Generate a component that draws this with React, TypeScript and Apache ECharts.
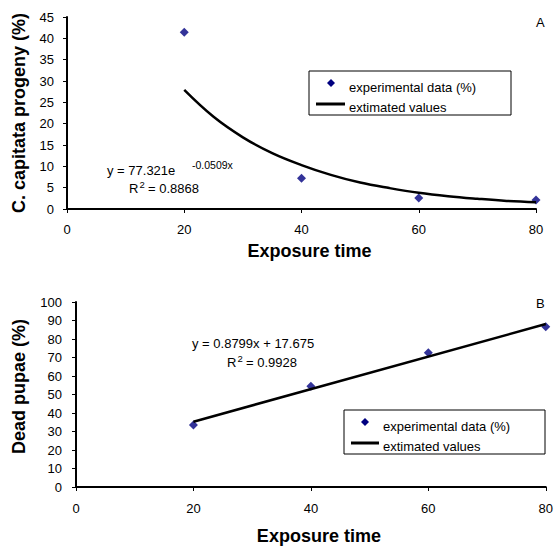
import React, { useEffect, useRef } from "react";
import * as echarts from "echarts";

// Panel A: C. capitata progeny vs exposure time
const exposureTimes = [20, 40, 60, 80];
const progenyData = [41.4, 7.2, 2.6, 2.1];
const curveTimes = [20, 25, 30, 35, 40, 45, 50, 55, 60, 65, 70, 75, 80];
const curveValues = [27.9, 21.6, 16.8, 13.1, 10.3, 8.0, 6.2, 4.9, 3.8, 3.0, 2.4, 1.9, 1.6];
const equationA = "y = 77.321e";
const exponentA = "-0.0509x";
const r2ValueA = "= 0.8868";

// Panel B: dead pupae vs exposure time
const deadPupae = [33.5, 54.5, 72.6, 86.6];
const lineTimes = [20, 80];
const lineValues = [35.3, 88.1];
const equationB = "y = 0.8799x + 17.675";
const r2ValueB = "= 0.9928";

const xTickMax = 80;
const xTickStep = 20;
const yMaxA = 45;
const yStepA = 5;
const yMaxB = 100;
const yStepB = 10;

const seriesScatterName = "experimental data (%)";
const seriesLineName = "extimated values";

const FONT = '"Liberation Sans", Arial, sans-serif';

export default function App() {
  const ref = useRef<HTMLDivElement>(null);

  useEffect(() => {
    if (!ref.current) return;
    const chart = echarts.init(ref.current, null, { renderer: "svg" });

    const axisCommon = {
      axisLine: { show: true, lineStyle: { color: "#000", width: 2 } },
      axisTick: { show: true, length: 4, lineStyle: { color: "#000", width: 1 } },
      splitLine: { show: false },
    };
    const labelStyle = { color: "#000", fontSize: 13, fontFamily: FONT };
    const nameStyle = { color: "#000", fontSize: 18, fontWeight: "bold" as const, fontFamily: FONT };

    const legendBox = (x: number, y: number, w: number, h: number, dx: number, dy: number, lx1: number, lx2: number, ly: number, tx: number, t1: number, t2: number) => [
      { type: "rect", shape: { x, y, width: w, height: h }, style: { fill: "#fff", stroke: "#000", lineWidth: 1 } },
      { type: "polygon", shape: { points: [[dx, dy - 4], [dx + 4, dy], [dx, dy + 4], [dx - 4, dy]] }, style: { fill: "#000080" } },
      { type: "text", style: { text: seriesScatterName, x: tx, y: t1, fill: "#000", fontSize: 13, fontFamily: FONT, verticalAlign: "middle" } },
      { type: "line", shape: { x1: lx1, y1: ly, x2: lx2, y2: ly }, style: { stroke: "#000", lineWidth: 3 } },
      { type: "text", style: { text: seriesLineName, x: tx, y: t2, fill: "#000", fontSize: 13, fontFamily: FONT, verticalAlign: "middle" } },
    ];

    const txt = (text: string, x: number, y: number, size = 13) => ({
      type: "text",
      style: { text, x, y, fill: "#000", fontSize: size, fontFamily: FONT, verticalAlign: "middle" },
    });

    const r2 = (value: string, x: number, y: number) => [
      txt("R", x, y),
      txt("2", x + 10.5, y - 4, 9.5),
      txt(value, x + 19, y),
    ];

    chart.setOption({
      animation: false,
      backgroundColor: "#fff",
      grid: [
        { left: 67, top: 17, width: 469, height: 192 },
        { left: 76, top: 302, width: 476, height: 190 },
      ],
      xAxis: [
        {
          gridIndex: 0, type: "value", min: 0, max: xTickMax, interval: xTickStep, ...axisCommon,
          axisLabel: { ...labelStyle, margin: 14 },
          name: "Exposure time", nameLocation: "middle", nameGap: 33,
          nameTextStyle: { ...nameStyle, padding: [0, 0, 0, 16] },
        },
        {
          gridIndex: 1, type: "value", min: 0, max: xTickMax, interval: xTickStep, ...axisCommon,
          axisLabel: { ...labelStyle, margin: 15 },
          name: "Exposure time", nameLocation: "middle", nameGap: 40,
          nameTextStyle: { ...nameStyle, padding: [0, 0, 0, 16] },
        },
      ],
      yAxis: [
        {
          gridIndex: 0, type: "value", min: 0, max: yMaxA, interval: yStepA, ...axisCommon,
          axisLabel: { ...labelStyle, margin: 13 },
          name: "C. capitata progeny (%)", nameLocation: "middle", nameGap: 39, nameRotate: 90,
          nameTextStyle: { ...nameStyle },
        },
        {
          gridIndex: 1, type: "value", min: 0, max: yMaxB, interval: yStepB, ...axisCommon,
          axisLabel: { ...labelStyle, margin: 14 },
          name: "Dead pupae (%)", nameLocation: "middle", nameGap: 48, nameRotate: 90,
          nameTextStyle: { ...nameStyle, padding: [0, 0, 0, 16] },
        },
      ],
      series: [
        {
          name: seriesLineName, type: "line", xAxisIndex: 0, yAxisIndex: 0, symbol: "none", smooth: 0.4,
          lineStyle: { color: "#000", width: 2.5 }, itemStyle: { color: "#000" },
          data: curveTimes.map((t, i) => [t, curveValues[i]]),
        },
        {
          name: seriesScatterName, type: "scatter", xAxisIndex: 0, yAxisIndex: 0, symbol: "diamond", symbolSize: 9,
          itemStyle: { color: "#000080" }, clip: false,
          data: exposureTimes.map((t, i) => [t, progenyData[i]]),
        },
        {
          name: seriesLineName, type: "line", xAxisIndex: 1, yAxisIndex: 1, symbol: "none",
          lineStyle: { color: "#000", width: 2.5 }, itemStyle: { color: "#000" },
          data: lineTimes.map((t, i) => [t, lineValues[i]]),
        },
        {
          name: seriesScatterName, type: "scatter", xAxisIndex: 1, yAxisIndex: 1, symbol: "diamond", symbolSize: 9,
          itemStyle: { color: "#000080" }, clip: false,
          data: exposureTimes.map((t, i) => [t, deadPupae[i]]),
        },
      ],
      graphic: [
        ...legendBox(309, 71, 202, 44, 331, 83, 316, 345, 104, 349, 87, 107),
        ...legendBox(344, 410, 201, 44, 365, 422, 351, 379, 443, 383, 426, 446),
        txt("A", 536, 22),
        txt("B", 536, 303.5),
        txt(equationA, 107, 170),
        txt(exponentA, 192, 165, 10.5),
        ...r2(r2ValueA, 129, 188),
        txt(equationB, 192, 343),
        ...r2(r2ValueB, 227, 362),
      ],
    });

    return () => chart.dispose();
  }, []);

  return (
    <div
      ref={ref}
      style={{ position: "fixed", left: 0, top: 0, width: 556, height: 546, background: "#fff" }}
    />
  );
}
